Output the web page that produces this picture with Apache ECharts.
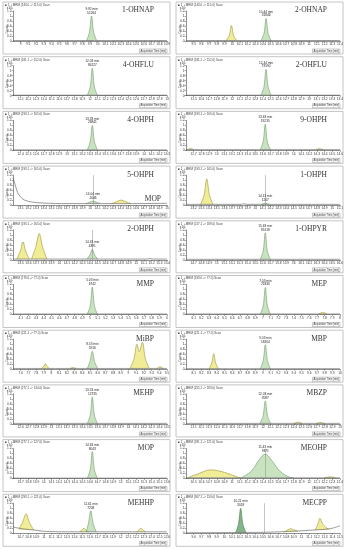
<!DOCTYPE html>
<html><head><meta charset="utf-8">
<script src="https://cdn.jsdelivr.net/npm/echarts@6/dist/echarts.min.js"></script>
<style>html,body{margin:0;padding:0;background:#fff}#c{width:346px;height:550px}</style>
</head><body><div id="c"></div>
<script>
// ---------- panel metadata ----------
const panelNames = ['1-OHNAP','2-OHNAP','4-OHFLU','2-OHFLU','4-OHPH','9-OHPH','5-OHPH','1-OHPH','2-OHPH','1-OHPYR',
  'MMP','MEP','MiBP','MBP','MEHP','MBZP','MOP','MEOHP','MEHHP','MECPP'];
const extraLabels = ['', '', '', '', '', '', 'MOP', '', '', '', '', '', '', '', '', '', '', '', '', ''];
const transitions = ['143.0 -> 115.0','143.0 -> 115.0','181.1 -> 152.0','181.1 -> 152.0','193.1 -> 165.0','193.1 -> 165.0',
  '193.1 -> 165.0','193.1 -> 165.0','193.1 -> 165.0','217.1 -> 189.0','179.0 -> 77.0','193.0 -> 77.0','221.1 -> 77.0',
  '221.1 -> 77.0','277.1 -> 134.0','255.1 -> 183.0','277.1 -> 127.0','291.1 -> 121.0','293.1 -> 121.0','307.1 -> 159.0'];
const xStarts = [8.9, 9.4, 11.0, 11.4, 12.3, 12.6, 13.0, 13.1, 13.4, 14.6, 4.0, 6.0, 7.5, 8.0, 12.5, 11.0, 13.6, 10.4, 10.6, 9.5];
const yUnits = ['x10³','x10²','x10³','x10³','x10³','x10²','x10²','x10²','x10²','x10³','x10²','x10³','x10²','x10³','x10³','x10²','x10²','x10²','x10²','x10²'];
const retTimes = ['9.92 min','10.44 min','12.03 min','12.44 min','13.33 min','13.63 min','14.04 min','14.13 min','14.43 min','15.63 min',
  '5.03 min','7.03 min','8.53 min','9.03 min','13.53 min','12.03 min','14.63 min','11.43 min','11.61 min','10.21 min'];
const peakAreas = ['51264','31846','84127','73590','26841','19235','2046','1207','4391','92418',
  '6742','21830','5916','18264','12735','3587','8043','9371','7208','3018'];
const vLines = [null,null,null,null,null,null,14.04,14.13,14.43,null,null,null,null,null,null,null,null,11.43,null,10.52];

// ---------- traces ([time, intensity]) ----------
const p01_base = [[8.9,0.02],[9.9,0.02],[10.9,0.02]];
const p01_green = [[9.855,0.02],[9.893,0.35],[9.92,1.0],[9.947,0.35],[9.985,0.03]];
const p01_yellow = [];

const p02_base = [[9.4,0.02],[10.4,0.02],[11.4,0.02]];
const p02_green = [[10.375,0.02],[10.413,0.3],[10.44,0.9],[10.467,0.3],[10.505,0.02]];
const p02_yellow = [[[9.92,0.02],[9.96,0.2],[9.99,0.62],[10.02,0.2],[10.06,0.02]]];

const p03_base = [[11.0,0.02],[12.0,0.02],[13.0,0.02]];
const p03_green = [[11.965,0.02],[12.003,0.35],[12.03,1.1],[12.057,0.35],[12.095,0.02]];
const p03_yellow = [];

const p04_base = [[11.4,0.02],[12.4,0.02],[13.4,0.02]];
const p04_green = [[12.375,0.02],[12.413,0.35],[12.44,1.05],[12.467,0.35],[12.505,0.02]];
const p04_yellow = [];

const p05_base = [[12.3,0.02],[13.3,0.02],[14.3,0.02]];
const p05_green = [[13.265,0.02],[13.303,0.35],[13.33,1.0],[13.357,0.35],[13.395,0.02]];
const p05_yellow = [];

const p06_base = [[12.6,0.03],[13.6,0.03],[14.6,0.03]];
const p06_green = [[13.565,0.03],[13.603,0.35],[13.63,1.05],[13.657,0.35],[13.695,0.03]];
const p06_yellow = [[[12.62,0.03],[12.66,0.08],[12.7,0.03]],[[14.29,0.03],[14.33,0.07],[14.38,0.03]]];

const p07_base = [[13.0,1.1],[13.03,0.8],[13.06,0.5],[13.1,0.32],[13.15,0.2],[13.25,0.12],[13.4,0.08],[13.7,0.06],[14.5,0.06],[15.0,0.07]];
const p07_green = [[13.95,0.06],[14.0,0.12],[14.04,0.16],[14.08,0.12],[14.13,0.06]];
const p07_yellow = [[[14.28,0.06],[14.35,0.14],[14.4,0.2],[14.46,0.14],[14.53,0.06]]];

const p08_base = [[13.1,0.03],[13.8,0.03],[13.85,0.05],[13.9,0.03],[15.1,0.03]];
const p08_green = [[14.08,0.03],[14.11,0.06],[14.13,0.08],[14.15,0.06],[14.18,0.03]];
const p08_yellow = [[[13.29,0.03],[13.335,0.4],[13.37,1.05],[13.405,0.4],[13.45,0.03]]];

const p09_base = [[13.4,0.03],[15.14,0.03],[15.18,0.05],[15.22,0.03],[15.4,0.03]];
const p09_green = [[14.36,0.03],[14.4,0.2],[14.43,0.42],[14.46,0.2],[14.5,0.03]];
const p09_yellow = [[[13.45,0.03],[13.495,0.35],[13.53,0.72],[13.565,0.35],[13.61,0.03]],[[13.64,0.03],[13.695,0.5],[13.74,1.05],[13.785,0.5],[13.84,0.03]]];

const p10_base = [[14.6,0.02],[15.6,0.02],[16.6,0.02]];
const p10_green = [[15.565,0.02],[15.603,0.35],[15.63,1.08],[15.657,0.35],[15.695,0.02]];
const p10_yellow = [];

const p11_base = [[4.0,0.02],[5.0,0.02],[6.0,0.02]];
const p11_green = [[4.965,0.02],[5.003,0.35],[5.03,1.1],[5.057,0.35],[5.095,0.02]];
const p11_yellow = [];

const p12_base = [[6.0,0.02],[7.0,0.02],[8.0,0.02]];
const p12_green = [[6.965,0.02],[7.003,0.35],[7.03,1.08],[7.057,0.35],[7.095,0.02]];
const p12_yellow = [[[7.72,0.02],[7.75,0.06],[7.77,0.09],[7.8,0.06],[7.83,0.02]]];

const p13_base = [[7.5,0.03],[8.5,0.03],[9.5,0.03]];
const p13_green = [[8.465,0.03],[8.5,0.3],[8.53,0.72],[8.56,0.3],[8.6,0.03]];
const p13_yellow = [[[7.87,0.03],[7.9,0.12],[7.92,0.22],[7.94,0.12],[7.97,0.03]],[[8.24,0.03],[8.28,0.06],[8.32,0.03]],
  [[9.02,0.03],[9.07,0.4],[9.11,1.0],[9.14,0.7],[9.18,1.08],[9.22,0.4],[9.27,0.03]],[[9.37,0.03],[9.41,0.1],[9.45,0.03]]];

const p14_base = [[8.0,0.02],[9.0,0.02],[10.0,0.02]];
const p14_green = [[8.965,0.02],[9.003,0.35],[9.03,0.98],[9.057,0.35],[9.095,0.02]];
const p14_yellow = [[[8.3,0.02],[8.335,0.25],[8.36,0.62],[8.385,0.25],[8.42,0.02]]];

const p15_base = [[12.5,0.02],[13.5,0.02],[14.5,0.02]];
const p15_green = [[13.465,0.02],[13.503,0.35],[13.53,1.08],[13.557,0.35],[13.595,0.02]];
const p15_yellow = [];

const p16_base = [[11.0,0.02],[12.0,0.02],[13.0,0.02]];
const p16_green = [[11.96,0.02],[12.0,0.3],[12.03,0.92],[12.06,0.3],[12.1,0.02]];
const p16_yellow = [[[12.4,0.02],[12.43,0.05],[12.45,0.07],[12.48,0.05],[12.51,0.02]],[[12.69,0.02],[12.72,0.04],[12.74,0.06],[12.77,0.04],[12.8,0.02]]];

const p17_base = [[13.6,0.02],[14.6,0.02],[15.6,0.02]];
const p17_green = [[14.565,0.02],[14.603,0.35],[14.63,1.08],[14.657,0.35],[14.695,0.02]];
const p17_yellow = [];

const p18_base = [[10.4,0.03],[11.4,0.03],[12.4,0.03]];
const p18_green = [[11.12,0.03],[11.25,0.3],[11.35,0.75],[11.43,0.98],[11.52,0.7],[11.62,0.3],[11.75,0.05],[11.8,0.03]];
const p18_yellow = [[[10.42,0.03],[10.55,0.18],[10.72,0.35],[10.9,0.25],[11.08,0.05],[11.12,0.03]],[[12.2,0.03],[12.27,0.07],[12.34,0.03]]];

const p19_base = [[10.6,0.25],[10.65,0.22],[10.72,0.18],[10.9,0.12],[11.0,0.08],[11.3,0.06],[12.6,0.06]];
const p19_green = [[11.55,0.06],[11.58,0.4],[11.61,0.9],[11.64,0.4],[11.68,0.06]];
const p19_yellow = [[[10.68,0.19],[10.725,0.45],[10.77,0.78],[10.815,0.42],[10.87,0.13]],[[11.47,0.06],[11.5,0.15],[11.52,0.2],[11.55,0.12],[11.58,0.06]],
  [[12.21,0.06],[12.24,0.15],[12.26,0.2],[12.29,0.13],[12.32,0.06]]];

const p20_base = [[9.5,0.02],[10.5,0.04],[10.8,0.07],[11.0,0.1],[11.2,0.14],[11.35,0.17],[11.42,0.22],[11.5,0.3]];
const p20_green = [[10.145,0.03],[10.18,0.35],[10.21,1.0],[10.24,0.35],[10.28,0.03]];
const p20_yellow = [[[10.78,0.06],[10.82,0.14],[10.86,0.18],[10.9,0.14],[10.95,0.08]],[[11.18,0.14],[11.21,0.35],[11.24,0.6],[11.27,0.4],[11.32,0.22],[11.36,0.17]]];

const baseTraces = [p01_base,p02_base,p03_base,p04_base,p05_base,p06_base,p07_base,p08_base,p09_base,p10_base,
  p11_base,p12_base,p13_base,p14_base,p15_base,p16_base,p17_base,p18_base,p19_base,p20_base];
const greenTraces = [p01_green,p02_green,p03_green,p04_green,p05_green,p06_green,p07_green,p08_green,p09_green,p10_green,
  p11_green,p12_green,p13_green,p14_green,p15_green,p16_green,p17_green,p18_green,p19_green,p20_green];
const yellowTraces = [p01_yellow,p02_yellow,p03_yellow,p04_yellow,p05_yellow,p06_yellow,p07_yellow,p08_yellow,p09_yellow,p10_yellow,
  p11_yellow,p12_yellow,p13_yellow,p14_yellow,p15_yellow,p16_yellow,p17_yellow,p18_yellow,p19_yellow,p20_yellow];

// ---------- build ----------
const chart = echarts.init(document.getElementById('c'), null, {renderer:'canvas'});
const PW = 167, PH = 52, PITCH = 54.7, COLX = [3, 176];
const fmt = v => String(Number(v.toFixed(1)));
const grids = [], xAxes = [], yAxes = [], series = [], graphics = [];

panelNames.forEach((name, i) => {
  const col = i % 2, row = Math.floor(i / 2);
  const x0 = COLX[col], y0 = 2 + row * PITCH;
  graphics.push({type:'rect', shape:{x:x0, y:y0, width:PW, height:PH}, style:{fill:'#fff', stroke:'#b5b5b5', lineWidth:0.8}, z:-10});
  graphics.push({type:'text', x:x0+2, y:y0+1.5, style:{text:'■ 1  +MRM (' + transitions[i] + ') Scan', fontSize:3, fill:'#444', fontFamily:'Arial'}});
  graphics.push({type:'text', x:x0+3, y:y0+27, rotation:Math.PI/2, style:{text:'Counts', fontSize:2.8, fill:'#555', fontFamily:'Arial', align:'center'}});
  graphics.push({type:'text', x:x0+151, y:y0+4.5, style:{text:name, fontSize:7.5, fill:'#333', fontFamily:'Liberation Serif', align:'right'}});
  if (extraLabels[i]) graphics.push({type:'text', x:x0+158, y:y0+29, style:{text:extraLabels[i], fontSize:7.5, fill:'#333', fontFamily:'Liberation Serif', align:'right'}});
  graphics.push({type:'text', x:x0+164, y:y0+47, style:{text:'Acquisition Time (min)', fontSize:2.6, fill:'#333', fontFamily:'Arial', align:'right', borderColor:'#777', borderWidth:0.4, padding:[0.5,1]}});

  grids.push({left:x0+10, top:y0+9, width:154, height:30, containLabel:false});
  const t0 = xStarts[i];
  xAxes.push({type:'value', gridIndex:i, min:t0, max:Number((t0+2.0).toFixed(1)), interval:0.1,
    axisLine:{lineStyle:{color:'#444', width:0.6}}, axisTick:{length:1.5, lineStyle:{color:'#555', width:0.5}},
    axisLabel:{fontSize:3.2, color:'#333', margin:2, showMinLabel:false, formatter:fmt, fontFamily:'Arial'},
    splitLine:{show:false}});
  yAxes.push({type:'value', gridIndex:i, min:0, max:1.2, interval:0.2,
    name:yUnits[i], nameGap:1.5, nameTextStyle:{fontSize:3.2, color:'#333', align:'right', padding:[0,0,0,0]},
    axisLine:{show:true, lineStyle:{color:'#444', width:0.6}}, axisTick:{show:true, length:1.5, lineStyle:{color:'#555', width:0.5}},
    axisLabel:{fontSize:3.2, color:'#333', margin:1.5, formatter:fmt, fontFamily:'Arial'}, splitLine:{show:false}});

  const isDark = name === 'MECPP';
  yellowTraces[i].forEach(tr => {
    series.push({type:'line', xAxisIndex:i, yAxisIndex:i, data:tr, symbol:'none', smooth:0.35, silent:true,
      lineStyle:{color:'#9c9440', width:0.6}, areaStyle:{color:'#f1ec96', opacity:1, origin:Math.min(...tr.map(p=>p[1]))}, z:2});
  });
  const g = greenTraces[i];
  const apex = g.reduce((a, b) => b[1] > a[1] ? b : a);
  const gs = {type:'line', xAxisIndex:i, yAxisIndex:i, data:g, symbol:'none', smooth:0.35, silent:true,
    lineStyle:{color: isDark ? '#4f7f55' : '#6e9a6a', width:0.6},
    areaStyle:{color: isDark ? '#84b48a' : '#c9e3c1', opacity:1, origin:Math.min(...g.map(p=>p[1]))}, z:2,
    markPoint:{symbol:'circle', symbolSize:0, silent:true,
      label:{show:true, position:'top', distance:1, fontSize:3.2, lineHeight:3.8, color:'#222', fontFamily:'Arial',
        formatter: retTimes[i] + '\n' + peakAreas[i]},
      data:[{coord:[apex[0], apex[1]]}]}};
  if (vLines[i] !== null) {
    gs.markLine = {symbol:'none', silent:true, label:{show:false}, lineStyle:{color:'#8a8a8a', width:0.5, type:'solid'},
      data:[{xAxis:vLines[i]}]};
  }
  series.push(gs);
  series.push({type:'line', xAxisIndex:i, yAxisIndex:i, data:baseTraces[i], symbol:'none', smooth:0.3, silent:true,
    lineStyle:{color:'#555', width:0.6}, z:3});
});

chart.setOption({animation:false, backgroundColor:'#fff', grid:grids, xAxis:xAxes, yAxis:yAxes, series:series, graphic:graphics});
</script></body></html>
